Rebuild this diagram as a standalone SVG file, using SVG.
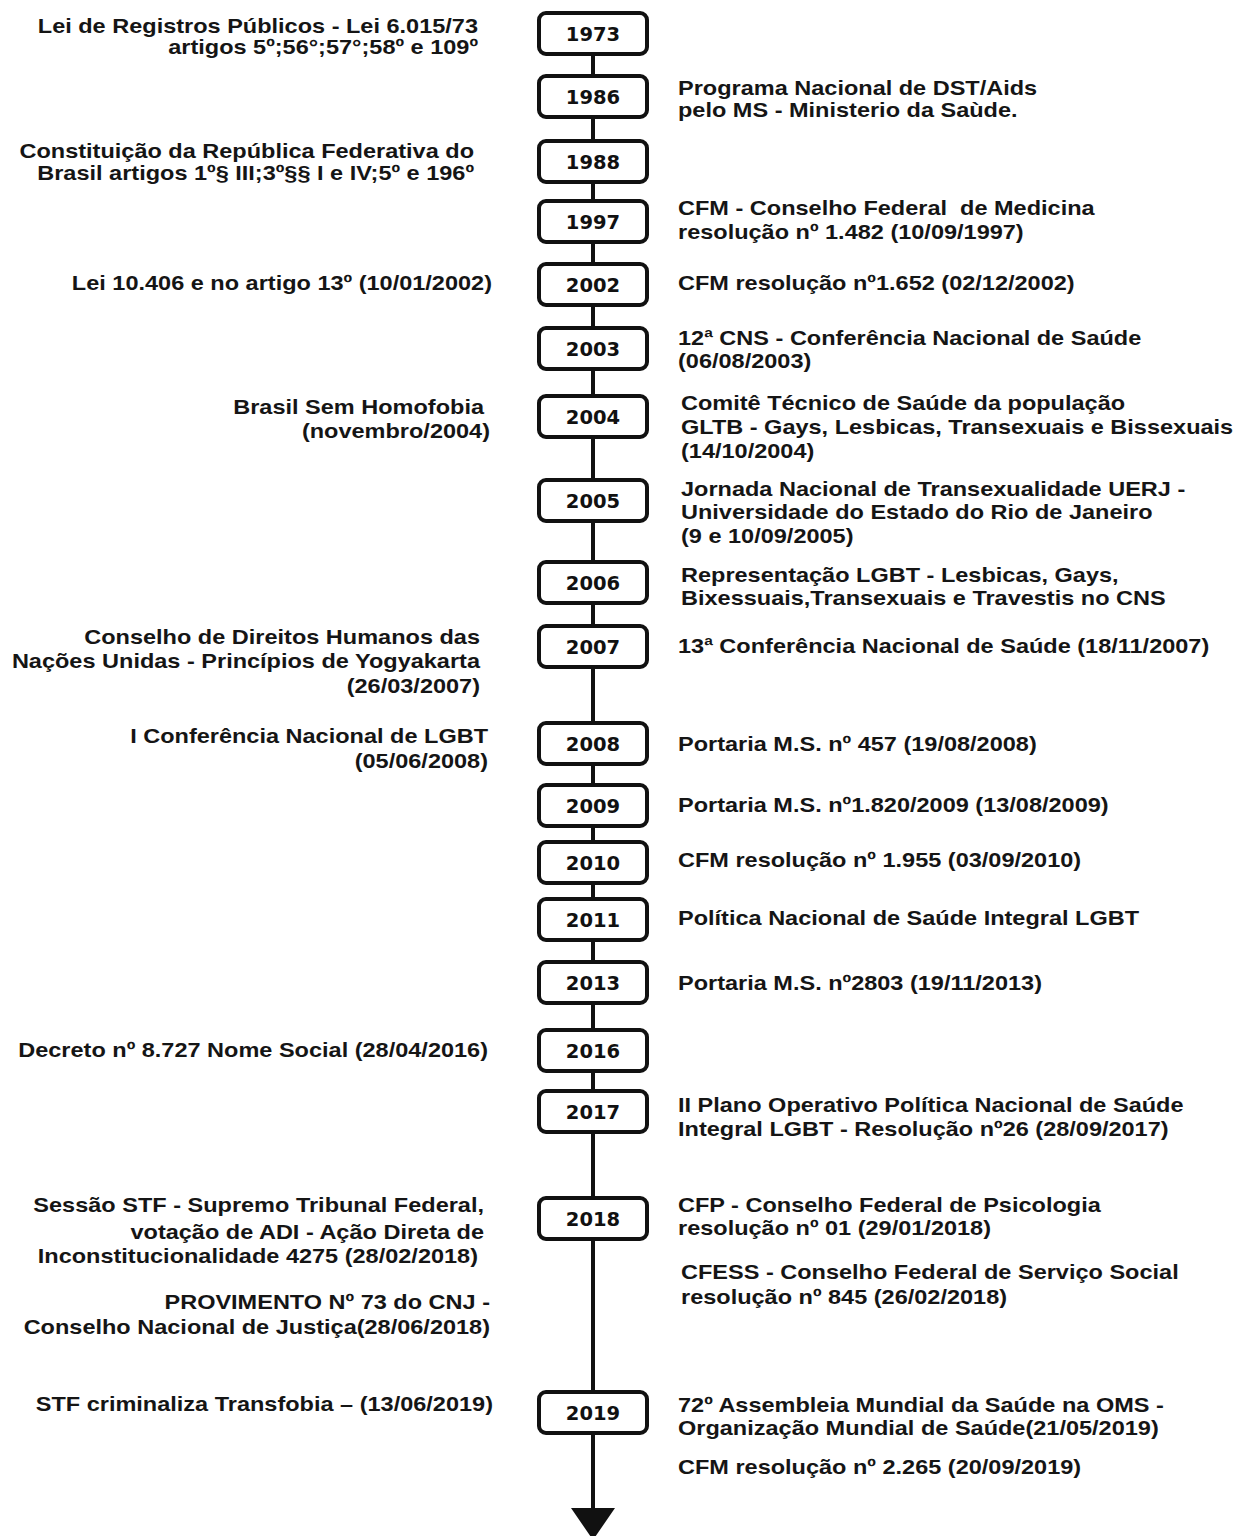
<svg xmlns="http://www.w3.org/2000/svg" width="1243" height="1536" viewBox="0 0 1243 1536">
<style>
.t{font-family:"Liberation Sans",Arial,sans-serif;font-weight:bold;font-size:21px;fill:#151515}
.l{text-anchor:end}
.yr{font-family:"DejaVu Sans",sans-serif;font-weight:bold;font-size:19.5px;text-anchor:middle;fill:#111}
.box{fill:#fff;stroke:#111;stroke-width:4}
.spine{stroke:#111;stroke-width:4;fill:none}
</style>
<defs>
<marker id="ah" markerUnits="userSpaceOnUse" viewBox="0 0 32 44" markerWidth="32" markerHeight="44" refX="0" refY="22" orient="auto">
<path d="M0,0 L32,22 L0,44 Z" fill="#111"/>
</marker>
</defs>
<rect width="1243" height="1536" fill="#fff"/>
<g id="connectors">
<line class="spine" x1="593" y1="54" x2="593" y2="75"/>
<line class="spine" x1="593" y1="117" x2="593" y2="141"/>
<line class="spine" x1="593" y1="182" x2="593" y2="201"/>
<line class="spine" x1="593" y1="242" x2="593" y2="264"/>
<line class="spine" x1="593" y1="305" x2="593" y2="328"/>
<line class="spine" x1="593" y1="369" x2="593" y2="396"/>
<line class="spine" x1="593" y1="437" x2="593" y2="480"/>
<line class="spine" x1="593" y1="521" x2="593" y2="562"/>
<line class="spine" x1="593" y1="603" x2="593" y2="626"/>
<line class="spine" x1="593" y1="667" x2="593" y2="723"/>
<line class="spine" x1="593" y1="764" x2="593" y2="785"/>
<line class="spine" x1="593" y1="826" x2="593" y2="842"/>
<line class="spine" x1="593" y1="883" x2="593" y2="899"/>
<line class="spine" x1="593" y1="940" x2="593" y2="962"/>
<line class="spine" x1="593" y1="1003" x2="593" y2="1030"/>
<line class="spine" x1="593" y1="1071" x2="593" y2="1091"/>
<line class="spine" x1="593" y1="1132" x2="593" y2="1198"/>
<line class="spine" x1="593" y1="1239" x2="593" y2="1392"/>
<line class="spine" x1="593" y1="1433" x2="593" y2="1508" marker-end="url(#ah)"/>
</g>
<g id="n1973">
<rect class="box" x="539" y="13" width="108" height="41" rx="7"/>
<text class="yr" x="593" y="40.5">1973</text>
<text class="t l" transform="translate(478,33) scale(1.12,1)">Lei de Registros Públicos - Lei 6.015/73</text>
<text class="t l" transform="translate(478,54) scale(1.12,1)">artigos 5º;56°;57°;58º e 109º</text>
</g>
<g id="n1986">
<rect class="box" x="539" y="76" width="108" height="41" rx="7"/>
<text class="yr" x="593" y="103.5">1986</text>
<text class="t" transform="translate(678,95) scale(1.12,1)">Programa Nacional de DST/Aids</text>
<text class="t" transform="translate(678,117) scale(1.12,1)">pelo MS - Ministerio da Saùde.</text>
</g>
<g id="n1988">
<rect class="box" x="539" y="141" width="108" height="41" rx="7"/>
<text class="yr" x="593" y="168.5">1988</text>
<text class="t l" transform="translate(474,158) scale(1.12,1)">Constituição da República Federativa do</text>
<text class="t l" transform="translate(474,180) scale(1.12,1)">Brasil artigos 1º§ III;3º§§ I e IV;5º e 196º</text>
</g>
<g id="n1997">
<rect class="box" x="539" y="201" width="108" height="41" rx="7"/>
<text class="yr" x="593" y="228.5">1997</text>
<text class="t" transform="translate(678,215) scale(1.12,1)" xml:space="preserve">CFM - Conselho Federal  de Medicina</text>
<text class="t" transform="translate(678,239) scale(1.12,1)">resolução nº 1.482 (10/09/1997)</text>
</g>
<g id="n2002">
<rect class="box" x="539" y="264" width="108" height="41" rx="7"/>
<text class="yr" x="593" y="291.5">2002</text>
<text class="t l" transform="translate(492,290) scale(1.12,1)">Lei 10.406 e no artigo 13º (10/01/2002)</text>
<text class="t" transform="translate(678,290) scale(1.12,1)">CFM resolução nº1.652 (02/12/2002)</text>
</g>
<g id="n2003">
<rect class="box" x="539" y="328" width="108" height="41" rx="7"/>
<text class="yr" x="593" y="355.5">2003</text>
<text class="t" transform="translate(678,345) scale(1.12,1)">12ª CNS - Conferência Nacional de Saúde</text>
<text class="t" transform="translate(678,368) scale(1.12,1)">(06/08/2003)</text>
</g>
<g id="n2004">
<rect class="box" x="539" y="396" width="108" height="41" rx="7"/>
<text class="yr" x="593" y="423.5">2004</text>
<text class="t l" transform="translate(484,414) scale(1.12,1)">Brasil Sem Homofobia</text>
<text class="t l" transform="translate(490,438) scale(1.12,1)">(novembro/2004)</text>
<text class="t" transform="translate(681,410) scale(1.12,1)">Comitê Técnico de Saúde da população</text>
<text class="t" transform="translate(681,434) scale(1.12,1)">GLTB - Gays, Lesbicas, Transexuais e Bissexuais</text>
<text class="t" transform="translate(681,458) scale(1.12,1)">(14/10/2004)</text>
</g>
<g id="n2005">
<rect class="box" x="539" y="480" width="108" height="41" rx="7"/>
<text class="yr" x="593" y="507.5">2005</text>
<text class="t" transform="translate(681,496) scale(1.12,1)">Jornada Nacional de Transexualidade UERJ -</text>
<text class="t" transform="translate(681,519) scale(1.12,1)">Universidade do Estado do Rio de Janeiro</text>
<text class="t" transform="translate(681,543) scale(1.12,1)">(9 e 10/09/2005)</text>
</g>
<g id="n2006">
<rect class="box" x="539" y="562" width="108" height="41" rx="7"/>
<text class="yr" x="593" y="589.5">2006</text>
<text class="t" transform="translate(681,582) scale(1.12,1)">Representação LGBT - Lesbicas, Gays,</text>
<text class="t" transform="translate(681,605) scale(1.12,1)">Bixessuais,Transexuais e Travestis no CNS</text>
</g>
<g id="n2007">
<rect class="box" x="539" y="626" width="108" height="41" rx="7"/>
<text class="yr" x="593" y="653.5">2007</text>
<text class="t l" transform="translate(480,644) scale(1.12,1)">Conselho de Direitos Humanos das</text>
<text class="t l" transform="translate(480,668) scale(1.12,1)">Nações Unidas - Princípios de Yogyakarta</text>
<text class="t l" transform="translate(480,693) scale(1.12,1)">(26/03/2007)</text>
<text class="t" transform="translate(678,653) scale(1.12,1)">13ª Conferência Nacional de Saúde (18/11/2007)</text>
</g>
<g id="n2008">
<rect class="box" x="539" y="723" width="108" height="41" rx="7"/>
<text class="yr" x="593" y="750.5">2008</text>
<text class="t l" transform="translate(488,743) scale(1.12,1)">I Conferência Nacional de LGBT</text>
<text class="t l" transform="translate(488,768) scale(1.12,1)">(05/06/2008)</text>
<text class="t" transform="translate(678,751) scale(1.12,1)">Portaria M.S. nº 457 (19/08/2008)</text>
</g>
<g id="n2009">
<rect class="box" x="539" y="785" width="108" height="41" rx="7"/>
<text class="yr" x="593" y="812.5">2009</text>
<text class="t" transform="translate(678,812) scale(1.12,1)">Portaria M.S. nº1.820/2009 (13/08/2009)</text>
</g>
<g id="n2010">
<rect class="box" x="539" y="842" width="108" height="41" rx="7"/>
<text class="yr" x="593" y="869.5">2010</text>
<text class="t" transform="translate(678,867) scale(1.12,1)">CFM resolução nº 1.955 (03/09/2010)</text>
</g>
<g id="n2011">
<rect class="box" x="539" y="899" width="108" height="41" rx="7"/>
<text class="yr" x="593" y="926.5">2011</text>
<text class="t" transform="translate(678,925) scale(1.12,1)">Política Nacional de Saúde Integral LGBT</text>
</g>
<g id="n2013">
<rect class="box" x="539" y="962" width="108" height="41" rx="7"/>
<text class="yr" x="593" y="989.5">2013</text>
<text class="t" transform="translate(678,990) scale(1.12,1)">Portaria M.S. nº2803 (19/11/2013)</text>
</g>
<g id="n2016">
<rect class="box" x="539" y="1030" width="108" height="41" rx="7"/>
<text class="yr" x="593" y="1057.5">2016</text>
<text class="t l" transform="translate(488,1057) scale(1.12,1)">Decreto nº 8.727 Nome Social (28/04/2016)</text>
</g>
<g id="n2017">
<rect class="box" x="539" y="1091" width="108" height="41" rx="7"/>
<text class="yr" x="593" y="1118.5">2017</text>
<text class="t" transform="translate(678,1112) scale(1.12,1)">II Plano Operativo Política Nacional de Saúde</text>
<text class="t" transform="translate(678,1136) scale(1.12,1)">Integral LGBT - Resolução nº26 (28/09/2017)</text>
</g>
<g id="n2018">
<rect class="box" x="539" y="1198" width="108" height="41" rx="7"/>
<text class="yr" x="593" y="1225.5">2018</text>
<text class="t l" transform="translate(484,1212) scale(1.12,1)">Sessão STF - Supremo Tribunal Federal,</text>
<text class="t l" transform="translate(484,1239) scale(1.12,1)">votação de ADI - Ação Direta de</text>
<text class="t l" transform="translate(478,1263) scale(1.12,1)">Inconstitucionalidade 4275 (28/02/2018)</text>
<text class="t l" transform="translate(490,1309) scale(1.12,1)">PROVIMENTO Nº 73 do CNJ -</text>
<text class="t l" transform="translate(490,1334) scale(1.12,1)">Conselho Nacional de Justiça(28/06/2018)</text>
<text class="t" transform="translate(678,1212) scale(1.12,1)">CFP - Conselho Federal de Psicologia</text>
<text class="t" transform="translate(678,1235) scale(1.12,1)">resolução nº 01 (29/01/2018)</text>
<text class="t" transform="translate(681,1279) scale(1.12,1)">CFESS - Conselho Federal de Serviço Social</text>
<text class="t" transform="translate(681,1304) scale(1.12,1)">resolução nº 845 (26/02/2018)</text>
</g>
<g id="n2019">
<rect class="box" x="539" y="1392" width="108" height="41" rx="7"/>
<text class="yr" x="593" y="1419.5">2019</text>
<text class="t l" transform="translate(493,1411) scale(1.12,1)">STF criminaliza Transfobia – (13/06/2019)</text>
<text class="t" transform="translate(678,1412) scale(1.12,1)">72º Assembleia Mundial da Saúde na OMS -</text>
<text class="t" transform="translate(678,1435) scale(1.12,1)">Organização Mundial de Saúde(21/05/2019)</text>
<text class="t" transform="translate(678,1474) scale(1.12,1)">CFM resolução nº 2.265 (20/09/2019)</text>
</g>
</svg>
